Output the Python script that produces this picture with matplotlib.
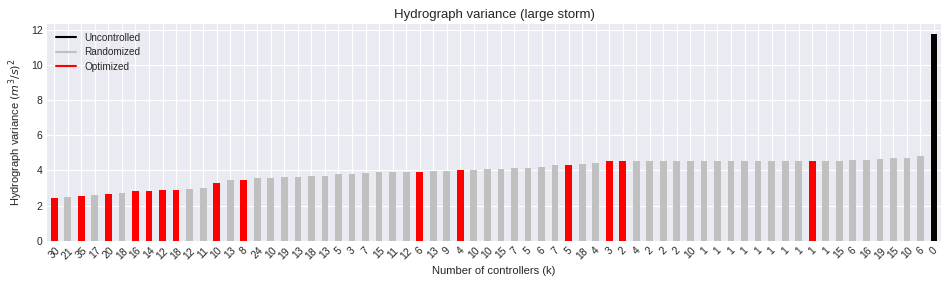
import numpy as np
import matplotlib
matplotlib.use("Agg")
import matplotlib.pyplot as plt
from matplotlib.lines import Line2D

# number of controllers for each run (x tick labels)
controllers = [30, 21, 35, 17, 20, 18, 16, 14, 12, 18, 12, 11, 10, 13, 8, 24,
               10, 19, 13, 18, 13, 5, 3, 7, 15, 11, 12, 6, 13, 9, 4, 10,
               10, 15, 7, 5, 6, 7, 5, 18, 4, 3, 2, 4, 2, 2, 2, 10,
               1, 1, 1, 1, 1, 1, 1, 1, 1, 1, 15, 6, 16, 19, 15, 10, 6, 0]

# hydrograph variance (m^3/s)^2
variance = [2.43, 2.48, 2.54, 2.60, 2.65, 2.71, 2.82, 2.82, 2.88, 2.88, 2.94, 2.99,
            3.28, 3.45, 3.45, 3.56, 3.56, 3.62, 3.62, 3.68, 3.68, 3.79, 3.79, 3.85,
            3.90, 3.90, 3.90, 3.92, 3.96, 3.96, 4.02, 4.02, 4.07, 4.07, 4.13, 4.13,
            4.19, 4.30, 4.30, 4.36, 4.41, 4.53, 4.53, 4.53, 4.53, 4.53, 4.53, 4.53,
            4.53, 4.53, 4.53, 4.53, 4.53, 4.53, 4.53, 4.53, 4.53, 4.53, 4.53, 4.59,
            4.59, 4.64, 4.70, 4.70, 4.81, 11.74]

# which strategy produced each run
strategy = ["opt", "rand", "opt", "rand", "opt", "rand", "opt", "opt", "opt", "opt",
            "rand", "rand", "opt", "rand", "opt", "rand", "rand", "rand", "rand", "rand",
            "rand", "rand", "rand", "rand", "rand", "rand", "rand", "opt", "rand", "rand",
            "opt", "rand", "rand", "rand", "rand", "rand", "rand", "rand", "opt", "rand",
            "rand", "opt", "opt", "rand", "rand", "rand", "rand", "rand", "rand", "rand",
            "rand", "rand", "rand", "rand", "rand", "rand", "opt", "rand", "rand", "rand",
            "rand", "rand", "rand", "rand", "rand", "unc"]

COLORS = {"unc": "black", "rand": "silver", "opt": "red"}

plt.style.use("seaborn-v0_8-darkgrid")
plt.rcParams["font.family"] = ["Liberation Sans", "DejaVu Sans"]

fig = plt.figure(figsize=(9.48, 2.84), dpi=100)
ax = fig.add_axes([0.0501, 0.1525, 0.9423, 0.763])

x = np.arange(len(variance))
ax.bar(x, variance, width=0.5, color=[COLORS[s] for s in strategy])
ax.set_xlim(-0.5, len(variance) - 0.5)
ax.set_xticks(x)
ax.set_xticklabels([str(c) for c in controllers], rotation=45, fontsize=7.5)
ax.tick_params(axis="y", labelsize=7.5)
ax.set_xlabel("Number of controllers (k)", fontsize=8)
ax.set_ylabel("Hydrograph variance $(m^3/s)^2$", fontsize=8)
ax.set_title("Hydrograph variance (large storm)", fontsize=9.5, pad=4)

handles = [Line2D([], [], color="black", lw=1.5),
           Line2D([], [], color="silver", lw=1.5),
           Line2D([], [], color="red", lw=1.5)]
ax.legend(handles, ["Uncontrolled", "Randomized", "Optimized"], loc="upper left",
          fontsize=7.2, frameon=False, labelspacing=0.45)

fig.savefig("out.png", dpi=100)
